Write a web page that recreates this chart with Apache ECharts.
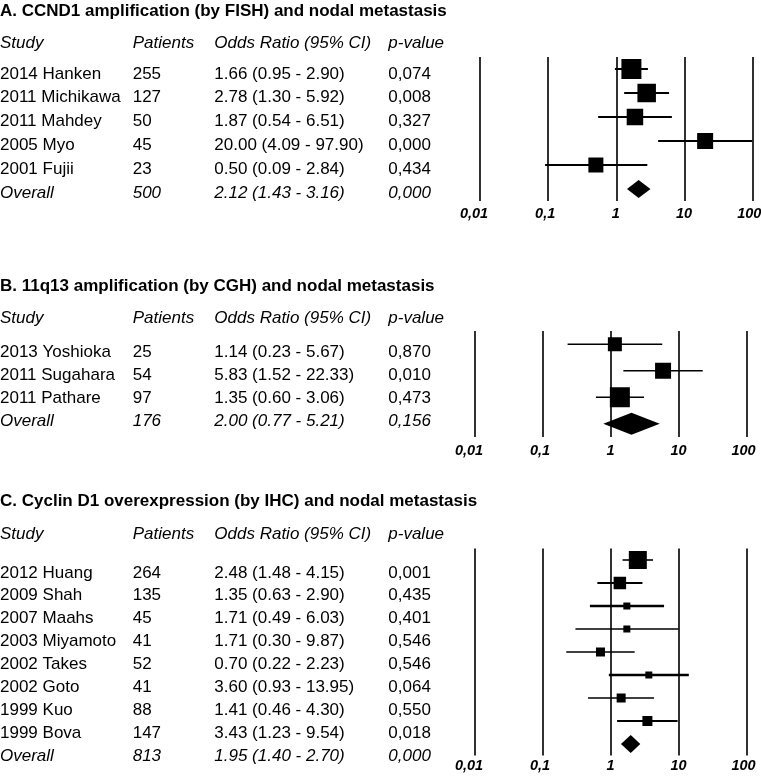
<!DOCTYPE html>
<html><head><meta charset="utf-8">
<script src="https://cdn.jsdelivr.net/npm/echarts@6/dist/echarts.min.js"></script>
<style>html,body{margin:0;padding:0;background:#fff}#c{width:761px;height:776px}</style>
</head><body><div id="c"></div>
<script>
// ---------------- DATA ----------------
const headers = ['Study', 'Patients', 'Odds Ratio (95% CI)', 'p-value'];
const tickLabels = ['0,01', '0,1', '1', '10', '100'];

const titleA = 'A. CCND1 amplification (by FISH) and nodal metastasis';
const studiesA = ['2014 Hanken', '2011 Michikawa', '2011 Mahdey', '2005 Myo', '2001 Fujii', 'Overall'];
const patientsA = [255, 127, 50, 45, 23, 500];
const orA = [1.66, 2.78, 1.87, 20.00, 0.50, 2.12];
const loA = [0.95, 1.30, 0.54, 4.09, 0.09, 1.43];
const hiA = [2.90, 5.92, 6.51, 97.90, 2.84, 3.16];
const pA = ['0,074', '0,008', '0,327', '0,000', '0,434', '0,000'];

const titleB = 'B. 11q13 amplification (by CGH) and nodal metastasis';
const studiesB = ['2013 Yoshioka', '2011 Sugahara', '2011 Pathare', 'Overall'];
const patientsB = [25, 54, 97, 176];
const orB = [1.14, 5.83, 1.35, 2.00];
const loB = [0.23, 1.52, 0.60, 0.77];
const hiB = [5.67, 22.33, 3.06, 5.21];
const pB = ['0,870', '0,010', '0,473', '0,156'];

const titleC = 'C. Cyclin D1 overexpression (by IHC) and nodal metastasis';
const studiesC = ['2012 Huang', '2009 Shah', '2007 Maahs', '2003 Miyamoto', '2002 Takes', '2002 Goto', '1999 Kuo', '1999 Bova', 'Overall'];
const patientsC = [264, 135, 45, 41, 52, 41, 88, 147, 813];
const orC = [2.48, 1.35, 1.71, 1.71, 0.70, 3.60, 1.41, 3.43, 1.95];
const loC = [1.48, 0.63, 0.49, 0.30, 0.22, 0.93, 0.46, 1.23, 1.40];
const hiC = [4.15, 2.90, 6.03, 9.87, 2.23, 13.95, 4.30, 9.54, 2.70];
const pC = ['0,001', '0,435', '0,401', '0,546', '0,546', '0,064', '0,550', '0,018', '0,000'];

// ---------------- STYLE ----------------
const FONT = '"Liberation Sans", Arial, sans-serif';
const FS = 17;
const colW = { s: 132.7, n: 81.6, o: 174, p: 70 };
const boxA = [20, 18.5, 16.5, 16, 15];
const lwA = [2.0, 2.0, 2.0, 2.0, 2.0];
const boxB = [14, 16, 20];
const lwB = [1.5, 1.5, 1.5];
const boxC = [18, 12.5, 7, 7, 9, 7, 9, 10];
const lwC = [1.6, 2.2, 2.6, 1.5, 1.6, 2.6, 1.5, 2.0];
const tickShift = [6, 3, 0.5, 0.5, 3.5];   // px each tick label sits left of its line
const TABLE_AXIS_X = 100;

const panels = [
  { title: titleA, studies: studiesA, pat: patientsA, or: orA, lo: loA, hi: hiA, p: pA,
    box: boxA, lw: lwA, dh: 18, titleTop: 2.5, headTop: 34.5,
    plot: { left: 480, top: 57, width: 272.8, height: 144 }, labMargin: 5,
    table: { top: 62, height: 142.8 } },
  { title: titleB, studies: studiesB, pat: patientsB, or: orB, lo: loB, hi: hiB, p: pB,
    box: boxB, lw: lwB, dh: 22, titleTop: 277.5, headTop: 309.5,
    plot: { left: 475, top: 331, width: 272, height: 106 }, labMargin: 6,
    table: { top: 340.3, height: 92.4 } },
  { title: titleC, studies: studiesC, pat: patientsC, or: orC, lo: loC, hi: hiC, p: pC,
    box: boxC, lw: lwC, dh: 18, titleTop: 492.5, headTop: 526,
    plot: { left: 475, top: 548.5, width: 272, height: 207 }, labMargin: 3,
    table: { top: 561.4, height: 206.2 } }
];

const richBase = (italic) => {
  const st = { fontFamily: FONT, fontSize: FS, color: '#000', fontWeight: 'normal',
    fontStyle: italic ? 'italic' : 'normal', align: 'left' };
  return {
    s: Object.assign({ width: colW.s }, st),
    n: Object.assign({ width: colW.n }, st),
    o: Object.assign({ width: colW.o }, st),
    p: Object.assign({ width: colW.p }, st)
  };
};
const richN = richBase(false), richI = richBase(true);
const rich = {};
Object.keys(richN).forEach(k => { rich[k] = richN[k]; rich[k + 'i'] = richI[k]; });
const tickRich = {};
tickShift.forEach((s, i) => {
  tickRich['t' + i] = { fontFamily: FONT, fontSize: 14.5, fontStyle: 'italic', fontWeight: 'bold', color: '#000',
    padding: [0, 2 * s, 0, 0] };
});

const fmt = v => v.toFixed(2);

function makeRender(box, lw, dh) {
  return function (params, api) {
    const i = params.dataIndex;
    const c = api.coord([api.value(0), api.value(1)]);
    const l = api.coord([api.value(2), api.value(1)]);
    const h = api.coord([api.value(3), api.value(1)]);
    if (api.value(4) === 1) {
      return { type: 'polygon', shape: { points: [[l[0], c[1]], [c[0], c[1] - dh / 2], [h[0], c[1]], [c[0], c[1] + dh / 2]] },
        style: { fill: '#000' } };
    }
    const s = box[i];
    return { type: 'group', children: [
      { type: 'line', shape: { x1: l[0], y1: c[1], x2: h[0], y2: c[1] }, style: { stroke: '#000', lineWidth: lw[i] } },
      { type: 'rect', shape: { x: c[0] - s / 2, y: c[1] - s / 2, width: s, height: s }, style: { fill: '#000' } }
    ] };
  };
}

const option = { animation: false, backgroundColor: '#fff', title: [], grid: [], xAxis: [], yAxis: [], series: [] };

panels.forEach((P, k) => {
  option.title.push({ text: P.title, left: 0, top: P.titleTop, padding: 0,
    textStyle: { fontFamily: FONT, fontSize: FS, fontWeight: 'bold', color: '#000' } });
  option.title.push({ text: '{si|' + headers[0] + '}{ni|' + headers[1] + '}{oi|' + headers[2] + '}{pi|' + headers[3] + '}',
    left: 0, top: P.headTop, padding: 0,
    textStyle: { fontFamily: FONT, fontSize: FS, fontWeight: 'normal', rich: rich } });

  const n = P.studies.length;
  const cats = P.studies.map((_, i) => String(i));

  // plot grid
  const gp = option.grid.length;
  option.grid.push(Object.assign({ containLabel: false, outerBoundsMode: 'none' }, P.plot));
  option.xAxis.push({ type: 'log', logBase: 10, min: 0.01, max: 100, gridIndex: gp,
    axisLine: { show: false }, axisTick: { show: false },
    splitLine: { show: true, lineStyle: { color: '#1a1a1a', width: 1.8 } },
    axisLabel: { margin: P.labMargin, fontFamily: FONT, fontSize: 14.5, fontStyle: 'italic', fontWeight: 'bold', color: '#000',
      rich: tickRich,
      formatter: v => {
        const j = Math.round(Math.log10(v)) + 2;
        return '{t' + j + '|' + tickLabels[j] + '}';
      } } });
  option.yAxis.push({ type: 'category', data: cats, inverse: true, gridIndex: gp, show: false });
  option.series.push({ type: 'custom', xAxisIndex: gp, yAxisIndex: gp,
    renderItem: makeRender(P.box, P.lw, P.dh),
    encode: { x: [0, 2, 3], y: 1 },
    data: P.studies.map((s, i) => [P.or[i], i, P.lo[i], P.hi[i], i === n - 1 ? 1 : 0]) });

  // table grid (axis placed at TABLE_AXIS_X; labels pushed back to x=0 by margin)
  const gt = option.grid.length;
  option.grid.push({ left: TABLE_AXIS_X, width: 360, top: P.table.top, height: P.table.height,
    containLabel: false, outerBoundsMode: 'none' });
  option.xAxis.push({ type: 'value', min: 0, max: 1, gridIndex: gt, show: false });
  option.yAxis.push({ type: 'category', data: cats, inverse: true, gridIndex: gt, position: 'left',
    axisLine: { show: false }, axisTick: { show: false }, splitLine: { show: false },
    axisLabel: { inside: false, align: 'left', margin: TABLE_AXIS_X, interval: 0, fontFamily: FONT, fontSize: FS, color: '#000', rich: rich,
      formatter: v => {
        const i = +v;
        const t = i === n - 1 ? 'i' : '';
        return '{s' + t + '|' + P.studies[i] + '}{n' + t + '|' + P.pat[i] + '}{o' + t + '|' +
          fmt(P.or[i]) + ' (' + fmt(P.lo[i]) + ' - ' + fmt(P.hi[i]) + ')}{p' + t + '|' + P.p[i] + '}';
      } } });
});

const chart = echarts.init(document.getElementById('c'), null, { renderer: 'canvas' });
chart.setOption(option);
</script>
</body></html>
